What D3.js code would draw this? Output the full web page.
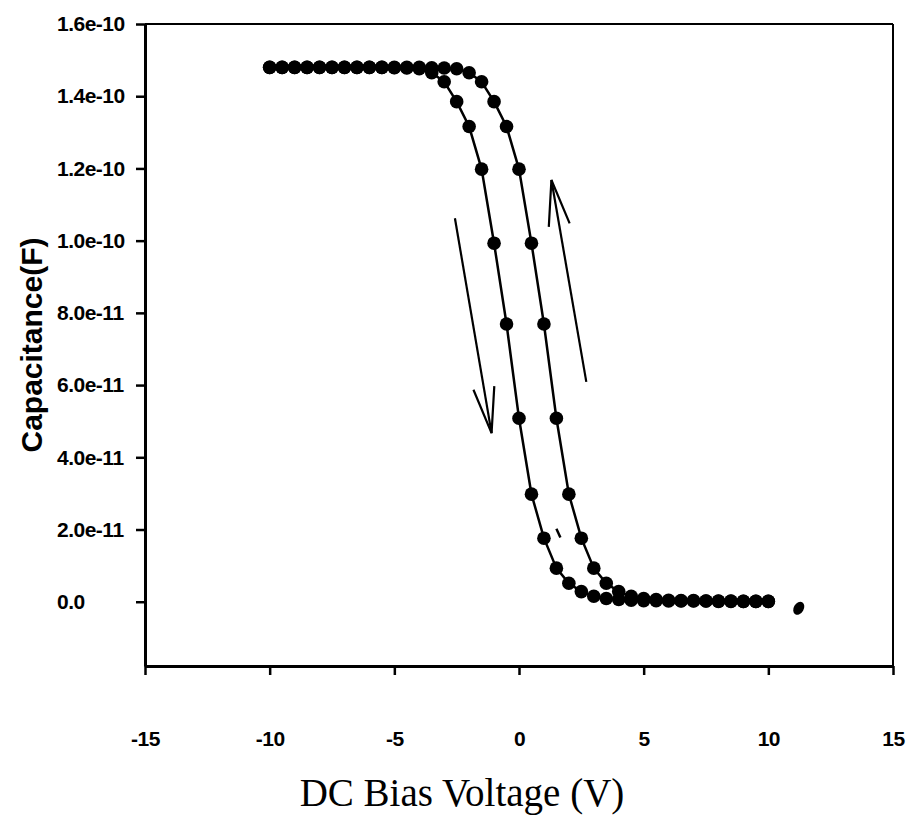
<!DOCTYPE html>
<html>
<head>
<meta charset="utf-8">
<script src="https://cdn.jsdelivr.net/npm/d3@7"></script>
<style>
  body { margin: 0; background: #fff; }
  .tick text { font-family: "Liberation Sans", Arial, sans-serif; font-weight: bold; font-size: 21px; fill: #000; letter-spacing: -0.5px; }
  .axis path, .axis line { stroke: #000; }
</style>
</head>
<body>
<div id="chart"></div>
<script>
// bias voltage (V), 0.5 V steps
const voltage = [-10, -9.5, -9, -8.5, -8, -7.5, -7, -6.5, -6, -5.5, -5, -4.5, -4, -3.5, -3, -2.5, -2, -1.5, -1, -0.5,
  0, 0.5, 1, 1.5, 2, 2.5, 3, 3.5, 4, 4.5, 5, 5.5, 6, 6.5, 7, 7.5, 8, 8.5, 9, 9.5, 10];

// left branch (sweep going down)
const capDown = [1.48e-10, 1.48e-10, 1.48e-10, 1.48e-10, 1.48e-10, 1.48e-10, 1.48e-10, 1.48e-10, 1.48e-10, 1.48e-10,
  1.479e-10, 1.478e-10, 1.476e-10, 1.465e-10, 1.44e-10, 1.385e-10, 1.316e-10, 1.198e-10, 0.993e-10, 0.769e-10,
  0.508e-10, 0.298e-10, 0.176e-10, 0.093e-10, 0.051e-10, 0.028e-10, 0.015e-10, 0.009e-10, 0.006e-10, 0.004e-10,
  0.003e-10, 0.003e-10, 0.002e-10, 0.002e-10, 0.002e-10, 0.002e-10, 0.001e-10, 0.001e-10, 0.001e-10, 0.001e-10, 0.001e-10];

// right branch (sweep going up)
const capUp = [1.48e-10, 1.48e-10, 1.48e-10, 1.48e-10, 1.48e-10, 1.48e-10, 1.48e-10, 1.48e-10, 1.48e-10, 1.48e-10,
  1.48e-10, 1.48e-10, 1.48e-10, 1.479e-10, 1.478e-10, 1.476e-10, 1.465e-10, 1.44e-10, 1.385e-10, 1.316e-10,
  1.198e-10, 0.993e-10, 0.769e-10, 0.508e-10, 0.298e-10, 0.176e-10, 0.093e-10, 0.051e-10, 0.028e-10, 0.015e-10,
  0.009e-10, 0.006e-10, 0.004e-10, 0.003e-10, 0.003e-10, 0.002e-10, 0.002e-10, 0.002e-10, 0.001e-10, 0.001e-10, 0.001e-10];

const xTicks = [-15, -10, -5, 0, 5, 10, 15];
const yTicks = [0, 2e-11, 4e-11, 6e-11, 8e-11, 1.0e-10, 1.2e-10, 1.4e-10, 1.6e-10];
const yTickLabels = ['0.0', '2.0e-11', '4.0e-11', '6.0e-11', '8.0e-11', '1.0e-10', '1.2e-10', '1.4e-10', '1.6e-10'];

// sweep direction arrows [x1, y1, x2, y2] in data units
const arrows = [
  [-2.57, 1.062e-10, -1.1, 0.467e-10],
  [2.7, 0.609e-10, 1.3, 1.168e-10]
];

const W = 907, H = 825;
const margin = { top: 24, right: 14, bottom: 159, left: 145 };
const width = W - margin.left - margin.right;
const height = H - margin.top - margin.bottom;

const svg = d3.select('#chart').append('svg')
  .attr('width', W)
  .attr('height', H);

const g = svg.append('g')
  .attr('transform', 'translate(' + margin.left + ',' + margin.top + ')');

const x = d3.scaleLinear().domain([-15, 15]).range([0, width]);
const y = d3.scaleLinear().domain([-1.78e-11, 1.6e-10]).range([height, 0]);

// frame: top and right thinner
g.append('line').attr('x1', 0).attr('x2', width).attr('y1', 0).attr('y2', 0)
  .attr('stroke', '#000').attr('stroke-width', 2);
g.append('line').attr('x1', width).attr('x2', width).attr('y1', 0).attr('y2', height)
  .attr('stroke', '#000').attr('stroke-width', 2);

const xAxis = g.append('g')
  .attr('class', 'axis')
  .attr('transform', 'translate(0,' + height + ')')
  .call(d3.axisBottom(x).tickValues(xTicks).tickSize(9).tickSizeOuter(0).tickPadding(56).tickFormat(d => String(d)));
xAxis.select('.domain').attr('stroke-width', 3);
xAxis.selectAll('.tick line').attr('stroke-width', 2.5);

const yAxis = g.append('g')
  .attr('class', 'axis')
  .call(d3.axisLeft(y).tickValues(yTicks).tickSize(9).tickSizeOuter(0).tickFormat((d, i) => yTickLabels[i]));
yAxis.select('.domain').attr('stroke-width', 3);
yAxis.selectAll('.tick line').attr('stroke-width', 2.5);
yAxis.selectAll('.tick text').attr('text-anchor', 'start').attr('x', -88);

const line = d3.line()
  .x((d, i) => x(voltage[i]))
  .y(d => y(d));

[capDown, capUp].forEach(series => {
  g.append('path')
    .datum(series)
    .attr('d', line)
    .attr('fill', 'none')
    .attr('stroke', '#000')
    .attr('stroke-width', 2.5);
  g.selectAll(null)
    .data(series)
    .enter().append('circle')
    .attr('cx', (d, i) => x(voltage[i]))
    .attr('cy', d => y(d))
    .attr('r', 6.8)
    .attr('fill', '#000');
});

// arrows with open V heads
arrows.forEach(a => {
  const x1 = x(a[0]), y1 = y(a[1]), x2 = x(a[2]), y2 = y(a[3]);
  g.append('line')
    .attr('x1', x1).attr('y1', y1).attr('x2', x2).attr('y2', y2)
    .attr('stroke', '#000').attr('stroke-width', 2.2);
  const ang = Math.atan2(y1 - y2, x1 - x2);
  const len = 47, spread = 13 * Math.PI / 180;
  const p = [ang - spread, ang + spread].map(t => [x2 + len * Math.cos(t), y2 + len * Math.sin(t)]);
  g.append('path')
    .attr('d', 'M' + p[0] + 'L' + [x2, y2] + 'L' + p[1])
    .attr('fill', 'none')
    .attr('stroke', '#000')
    .attr('stroke-width', 2.2);
});

// scan specks
g.append('line')
  .attr('x1', x(1.5)).attr('y1', y(2.02e-11)).attr('x2', x(1.66)).attr('y2', y(1.78e-11))
  .attr('stroke', '#000').attr('stroke-width', 2.5);
g.append('ellipse')
  .attr('cx', x(11.22)).attr('cy', y(-0.18e-11))
  .attr('rx', 5).attr('ry', 7)
  .attr('transform', 'rotate(30,' + x(11.22) + ',' + y(-0.18e-11) + ')')
  .attr('fill', '#000');

svg.append('text')
  .attr('x', 462)
  .attr('y', 806)
  .attr('text-anchor', 'middle')
  .style('font-family', '"Liberation Serif", "Times New Roman", serif')
  .style('font-size', '39px')
  .text('DC Bias Voltage (V)');

svg.append('text')
  .attr('transform', 'translate(42,345) rotate(-90)')
  .attr('text-anchor', 'middle')
  .style('font-family', '"Liberation Sans", Arial, sans-serif')
  .style('font-weight', 'bold')
  .style('font-size', '30px')
  .text('Capacitance(F)');
</script>
</body>
</html>
